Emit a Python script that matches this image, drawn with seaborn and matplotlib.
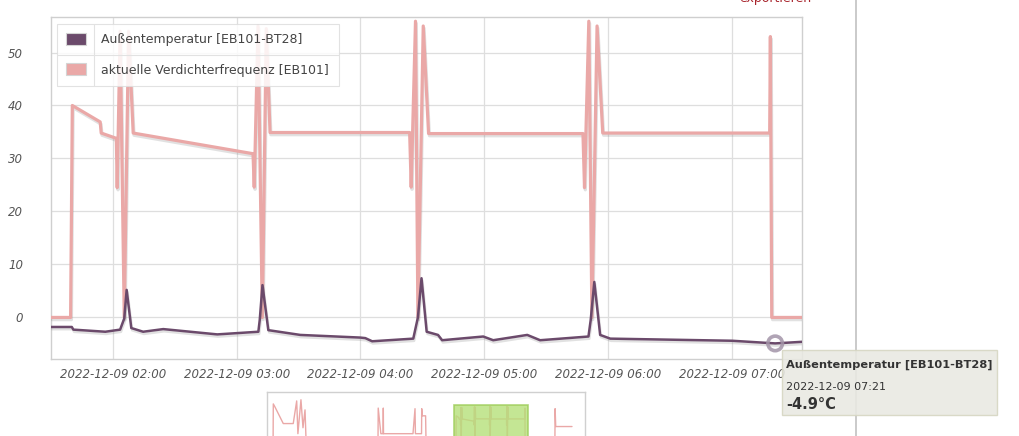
import matplotlib
matplotlib.use("Agg")
import matplotlib.pyplot as plt
import matplotlib.dates as mdates
import matplotlib.patheffects as pe
from matplotlib.patches import Patch, Rectangle
from matplotlib.lines import Line2D
import seaborn as sns
import pandas as pd

# --- values ----------------------------------------------------------------
DAY = "2022-12-09 "

temp_label = "Außentemperatur [EB101-BT28]"
freq_label = "aktuelle Verdichterfrequenz [EB101]"

temp_times = ["01:30:00", "01:40:05", "01:40:50", "01:56:20", "02:03:30", "02:05:30",
              "02:06:40", "02:08:55", "02:14:40", "02:24:25", "02:50:35", "03:10:30",
              "03:11:10", "03:12:30", "03:15:20", "03:30:50", "03:59:55", "04:02:20",
              "04:05:40", "04:25:35", "04:27:50", "04:29:35", "04:32:05", "04:37:35",
              "04:39:35", "04:59:30", "05:04:20", "05:20:50", "05:27:05", "05:50:30",
              "05:51:35", "05:53:20", "05:56:10", "06:01:05", "07:00:10", "07:21:00",
              "07:34:00"]
temp_values = [-1.8, -1.8, -2.3, -2.7, -2.3, -0.2,
               5.2, -2.0, -2.7, -2.2, -3.2, -2.7,
               -0.5, 6.1, -2.4, -3.3, -3.8, -3.9,
               -4.5, -4.0, 0.0, 7.4, -2.7, -3.3,
               -4.3, -3.6, -4.3, -3.3, -4.3, -3.6,
               -0.5, 6.7, -3.3, -4.0, -4.4, -4.9,
               -4.6]

freq_times = ["01:30:00", "01:39:30", "01:40:20", "01:53:50", "01:54:20", "02:01:40",
              "02:02:05", "02:03:30", "02:05:30", "02:07:35", "02:09:50", "03:07:55",
              "03:08:30", "03:10:20", "03:12:25", "03:14:20", "03:16:10", "04:23:50",
              "04:24:35", "04:26:40", "04:27:50", "04:30:25", "04:33:00", "05:47:50",
              "05:48:35", "05:50:40", "05:52:10", "05:54:40", "05:57:25", "07:18:20",
              "07:18:40", "07:19:20", "07:34:00"]
freq_values = [0, 0, 40, 36.9, 34.8, 33.8,
               24.5, 54, 0, 54, 34.8, 30.9,
               24.6, 55, 0, 54.5, 34.9, 34.9,
               24.6, 55.9, 0, 55, 34.7, 34.7,
               24.5, 55.9, 0, 55, 34.8, 34.8,
               53, 0, 0]

# overview strip below the chart (compressor frequency, wider time range)
nav_before_times = ["2022-12-08 10:40", "2022-12-08 10:41", "2022-12-08 10:49", "2022-12-08 11:30",
                    "2022-12-08 12:19", "2022-12-08 12:36", "2022-12-08 12:42", "2022-12-08 12:57",
                    "2022-12-08 13:07", "2022-12-08 13:17", "2022-12-08 13:22", "2022-12-08 19:16",
                    "2022-12-08 19:17", "2022-12-08 19:30", "2022-12-08 19:41", "2022-12-08 19:42",
                    "2022-12-08 19:43", "2022-12-08 22:08", "2022-12-08 22:18", "2022-12-08 22:20",
                    "2022-12-08 22:50", "2022-12-08 22:51", "2022-12-08 22:53", "2022-12-08 23:10",
                    "2022-12-08 23:12", "2022-12-09 01:29"]
nav_before_values = [0, 60, 55, 27, 27, 65, 10, 67, 20, 50, 0, 0,
                     53, 10, 10, 53, 10, 10, 52, 10, 10, 52, 40, 40, 0, 0]
nav_after_times = ["2022-12-09 09:46", "2022-12-09 09:47", "2022-12-09 09:50", "2022-12-09 11:10"]
nav_after_values = [0, 52, 22, 22]

hover_time = "07:21:00"

view_start, view_end = "2022-12-09 01:30", "2022-12-09 07:34"
nav_start, nav_end = "2022-12-08 10:10", "2022-12-09 12:14"

TEMP_COLOR = "#6b4a6b"
FREQ_COLOR = "#eaa8a7"

# --- frames ------------------------------------------------------------------
temp_df = pd.DataFrame({"time": pd.to_datetime([DAY + t for t in temp_times]),
                        "value": temp_values})
freq_df = pd.DataFrame({"time": pd.to_datetime([DAY + t for t in freq_times]),
                        "value": freq_values})
nav_df = pd.concat([
    pd.DataFrame({"time": pd.to_datetime(nav_before_times), "value": nav_before_values}),
    freq_df,
    pd.DataFrame({"time": pd.to_datetime(nav_after_times), "value": nav_after_values}),
], ignore_index=True)

sns.set_theme(style="white")
plt.rcParams["font.family"] = ["DejaVu Sans"]

fig = plt.figure(figsize=(10.19, 4.36), dpi=100)
ax = fig.add_axes([51 / 1019, 1 - 359.3 / 436, 751 / 1019, 342.3 / 436])

shadow = [pe.SimpleLineShadow(offset=(0.6, -1.6), shadow_color="#888888", alpha=0.25), pe.Normal()]
sns.lineplot(data=freq_df, x="time", y="value", ax=ax, color=FREQ_COLOR, linewidth=2.3,
             estimator=None, path_effects=shadow, zorder=3)
sns.lineplot(data=temp_df, x="time", y="value", ax=ax, color=TEMP_COLOR, linewidth=1.8,
             estimator=None, path_effects=shadow, zorder=4)

# highlighted point
hover = temp_df[temp_df["time"] == pd.to_datetime(DAY + hover_time)]
ax.scatter(hover["time"], hover["value"], s=110, facecolors="none", edgecolors="#a394a8",
           linewidths=2.6, alpha=0.85, zorder=6, clip_on=False)

ax.set_xlim(pd.to_datetime(view_start), pd.to_datetime(view_end))
ax.set_ylim(-7.9, 56.7)
ax.set_yticks([0, 10, 20, 30, 40, 50])
ax.xaxis.set_major_locator(mdates.HourLocator())
ax.xaxis.set_major_formatter(mdates.DateFormatter("%Y-%m-%d %H:%M"))
ax.set_xlabel("")
ax.set_ylabel("")
ax.grid(True, color="#dedede", linewidth=0.9)
ax.set_axisbelow(True)
for s in ax.spines.values():
    s.set_color("#cfcfcf")
    s.set_linewidth(1.0)
ax.tick_params(axis="both", length=0, labelsize=8.5, labelcolor="#555555")
ax.tick_params(axis="x", pad=6.5)
ax.tick_params(axis="y", pad=20)
plt.setp(ax.get_xticklabels() + ax.get_yticklabels(), fontstyle="italic")

handles = [Patch(facecolor=TEMP_COLOR, edgecolor="#d4d4d4", linewidth=0.8, label=temp_label),
           Patch(facecolor=FREQ_COLOR, edgecolor="#d4d4d4", linewidth=0.8, label=freq_label)]
leg = ax.legend(handles=handles, loc="upper left", bbox_to_anchor=(0.008, 0.98), borderaxespad=0,
                fontsize=9, frameon=True, fancybox=False, edgecolor="#dddddd", framealpha=0.85,
                handlelength=1.6, handleheight=1.1, handletextpad=1.2, labelspacing=1.35,
                borderpad=0.75)
leg.get_frame().set_linewidth(0.8)
for t in leg.get_texts():
    t.set_color("#444444")

# overview strip
nav = fig.add_axes([267 / 1019, 1 - 445 / 436, 318 / 1019, 53 / 436])
sns.lineplot(data=nav_df, x="time", y="value", ax=nav, color=FREQ_COLOR, linewidth=1.0,
             estimator=None, zorder=2)
nav.set_xlim(pd.to_datetime(nav_start), pd.to_datetime(nav_end))
nav.set_ylim(-9, 80)
nav.axvspan(pd.to_datetime(view_start), pd.to_datetime(view_end), ymin=0, ymax=40 / 53,
            facecolor="#b6e07a", edgecolor="#9dcc58", alpha=0.8, linewidth=1.2, zorder=3)
nav.set_xticks([])
nav.set_yticks([])
nav.set_xlabel("")
nav.set_ylabel("")
for s in nav.spines.values():
    s.set_color("#d0d0d0")
    s.set_linewidth(1.0)

# legend dividers, placed from the rendered legend
fig.canvas.draw()
inv = fig.transFigure.inverted()
lb = leg.get_frame().get_window_extent()
h0 = leg.legend_handles[0].get_window_extent()
t0 = leg.get_texts()[0].get_window_extent()
t1 = leg.get_texts()[1].get_window_extent()
xdiv = (h0.x1 + t0.x0) / 2
ydiv = (t0.y0 + t1.y1) / 2
for (xa, ya), (xb, yb) in [((xdiv, lb.y0), (xdiv, lb.y1)), ((lb.x0, ydiv), (lb.x1, ydiv))]:
    (fx0, fy0), (fx1, fy1) = inv.transform([(xa, ya), (xb, yb)])
    fig.add_artist(Line2D([fx0, fx1], [fy0, fy1], color="#e2e2e2", linewidth=0.8, zorder=7))

# page separator and export link (cut off by the top edge, as in the screenshot)
fig.add_artist(Line2D([855.5 / 1019] * 2, [0, 1], color="#b8b8b8", linewidth=1.3, alpha=0.8, zorder=8))
fig.text(775 / 1019, 1 - 2 / 436, "exportieren", color="#a8242c", fontsize=9,
         ha="center", va="baseline")

# tooltip
fig.add_artist(Rectangle((782 / 1019, 1 - 415 / 436), 215 / 1019, 65 / 436,
                         transform=fig.transFigure, facecolor="#e9e9e2", edgecolor="#d6d6c2",
                         alpha=0.88, linewidth=1.0, zorder=9))
fig.text(786 / 1019, 1 - 367.5 / 436, temp_label, fontsize=8.2, fontweight="bold",
         color="#333333", va="baseline", zorder=10)
fig.text(786 / 1019, 1 - 389.5 / 436, "2022-12-09 07:21", fontsize=8,
         color="#333333", va="baseline", zorder=10)
fig.text(786 / 1019, 1 - 409 / 436, f"{hover['value'].iloc[0]:.1f}°C", fontsize=10.5,
         fontweight="bold", color="#333333", va="baseline", zorder=10)

fig.savefig("out.png", dpi=100, facecolor="white")
